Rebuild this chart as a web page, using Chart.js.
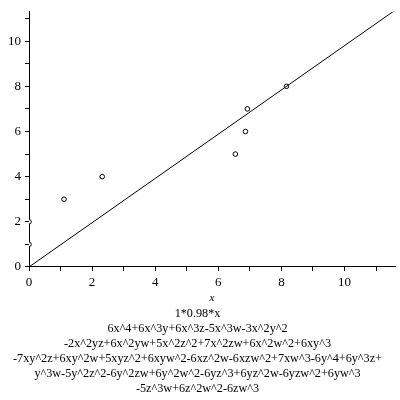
<!DOCTYPE html>
<html>
<head>
<meta charset="utf-8">
<script src="https://cdn.jsdelivr.net/npm/chart.js@4"></script>
<style>
html,body{margin:0;padding:0;background:#fff;}
#wrap{width:400px;height:400px;}
</style>
</head>
<body>
<div id="wrap"><canvas id="c" width="400" height="400"></canvas></div>
<script>
// Data
const pointX = [0, 0, 1.11, 2.32, 6.54, 6.86, 6.92, 8.16];
const pointY = [1, 2, 3, 4, 5, 6, 7, 8];
const lineX = [0, 11.6];
const lineY = [0, 11.37];
const xTickLabels = ['0', '2', '4', '6', '8', '10'];
const yTickLabels = ['0', '2', '4', '6', '8', '10'];
const xAxisTitle = 'x';
const titleLines = [
  '1*0.98*x',
  '6x^4+6x^3y+6x^3z-5x^3w-3x^2y^2',
  '-2x^2yz+6x^2yw+5x^2z^2+7x^2zw+6x^2w^2+6xy^3',
  '-7xy^2z+6xy^2w+5xyz^2+6xyw^2-6xz^2w-6xzw^2+7xw^3-6y^4+6y^3z+',
  'y^3w-5y^2z^2-6y^2zw+6y^2w^2-6yz^3+6yz^2w-6yzw^2+6yw^3',
  '-5z^3w+6z^2w^2-6zw^3'
];

const serif = "'Liberation Serif', 'DejaVu Serif', serif";

new Chart(document.getElementById('c'), {
  type: 'scatter',
  data: {
    datasets: [
      {
        type: 'line',
        data: lineX.map((x, i) => ({x: x, y: lineY[i]})),
        borderColor: '#000',
        borderWidth: 1,
        pointRadius: 0,
        fill: false,
        tension: 0
      },
      {
        data: pointX.map((x, i) => ({x: x, y: pointY[i]})),
        pointStyle: 'circle',
        pointRadius: 2.3,
        borderColor: '#000',
        borderWidth: 1,
        backgroundColor: '#fff'
      }
    ]
  },
  options: {
    responsive: false,
    animation: false,
    layout: { padding: { top: 10, right: 5, left: 0, bottom: 0 } },
    plugins: {
      legend: { display: false },
      tooltip: { enabled: false },
      title: {
        display: true,
        position: 'bottom',
        text: titleLines,
        color: '#000',
        font: { family: serif, size: 12.2, weight: 'normal', lineHeight: 1.23 },
        padding: { top: 0, bottom: 4 }
      }
    },
    scales: {
      x: {
        type: 'linear',
        min: 0,
        max: 11.6,
        afterFit: s => { s.height = 39; },
        afterBuildTicks: s => {
          s.ticks = [];
          for (let v = 0; v <= 11; v++) s.ticks.push({value: v});
        },
        ticks: {
          color: '#000',
          font: { family: serif, size: 13 },
          padding: 4,
          maxRotation: 0,
          autoSkip: false,
          callback: v => { const i = xTickLabels.indexOf(String(v)); return i >= 0 ? xTickLabels[i] : ''; }
        },
        grid: { display: true, drawOnChartArea: false, drawTicks: true, tickLength: 4, color: '#000' },
        border: { display: true, color: '#000', width: 1 },
        title: {
          display: true,
          text: xAxisTitle,
          color: '#000',
          font: { family: serif, size: 11, style: 'italic' },
          padding: { top: 0, bottom: 1 }
        }
      },
      y: {
        type: 'linear',
        min: 0,
        max: 11.3,
        afterFit: s => { s.width = 29; },
        afterBuildTicks: s => {
          s.ticks = [];
          for (let v = 0; v <= 11; v++) s.ticks.push({value: v});
        },
        ticks: {
          color: '#000',
          font: { family: serif, size: 13 },
          padding: 4,
          autoSkip: false,
          callback: v => { const i = yTickLabels.indexOf(String(v)); return i >= 0 ? yTickLabels[i] : ''; }
        },
        grid: { display: true, drawOnChartArea: false, drawTicks: true, tickLength: 4, color: '#000' },
        border: { display: true, color: '#000', width: 1 }
      }
    }
  }
});
</script>
</body>
</html>
